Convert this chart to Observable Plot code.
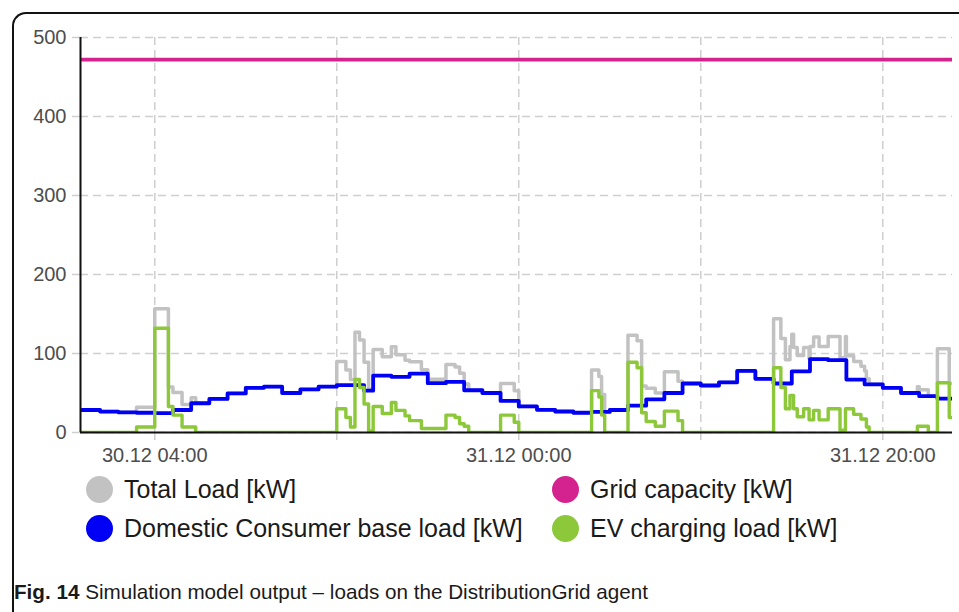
<!DOCTYPE html>
<html>
<head>
<meta charset="utf-8">
<script src="https://cdn.jsdelivr.net/npm/d3@7"></script>
<script src="https://cdn.jsdelivr.net/npm/@observablehq/plot@0.6"></script>
<style>
  body { margin: 0; background: #fff; }
  #page { position: relative; width: 959px; height: 612px; overflow: hidden; background: #fff; font-family: "Liberation Sans", Arial, sans-serif; }
  .frame { position: absolute; left: 12px; top: 12px; width: 1000px; height: 700px; border-left: 2px solid #111; border-top: 2px solid #111; border-top-left-radius: 14px; box-sizing: border-box; }
  #chart { position: absolute; left: 0; top: 0; }
  .item { position: absolute; display: flex; align-items: center; font-size: 25px; color: #1a1a1a; white-space: nowrap; }
  .dot { width: 27px; height: 27px; border-radius: 50%; margin-right: 11px; flex: none; }
  #caption { position: absolute; left: 0; top: 574px; }
</style>
</head>
<body>
<div id="page">
  <div class="frame"></div>
  <div id="chart"></div>
  <div id="legend"></div>
  <svg id="caption" width="959" height="38"></svg>
</div>
<script>
// ---- data (hours since 30.12 00:00) ----
const baseHours = [0,1,2,3,4,5,6,7,8,9,10,11,12,13,14,15,15.5,16,17,18,19,20,21,22,23,24,25,26,27,28,29,30,31,32,33,34,35,36,37,38,39,40,41,42,43,44,45,46,47];
const baseLoad  = [28.5,26.5,25.5,25,24.5,28.5,37,42.5,49.5,56.5,58,50,54.5,58,60,60,53,72,70.5,74.5,62.5,64,53.5,50,40,33,28.7,26.6,25,26,28.5,34,42,50,62,59.5,63.5,78,68,62,77.5,93,91.5,67,61,56.5,50,46,43];

const evHours = [0,3,4,4.75,5,5.5,6.25,14,14.5,14.75,15,15.25,15.5,15.75,16,16.5,17,17.25,17.75,18,18.65,20,20.5,20.75,21,21.25,23,23.75,24,28,28.4,28.55,28.72,30,30.5,30.75,31,31.5,32,32.75,33,38,38.4,38.65,38.9,39.1,39.3,39.65,39.95,40.2,40.5,41,41.65,41.95,42.4,42.8,43.1,43.25,45.9,46.5,47,47.65];
const evLoad  = [0,7,132,33,22,7,0,30,19,7,67,57,36,2,33,24,38,28,21,15,5,22,19,11,8,0,22,13,0,53,45,22,0,89,82,25,14,8,27,15,0,82,57,30,47,30,20,30,16,28,16,30,3,30,23,17,7,0,8,0,63,19];

const gridCapacity = 472;
const dataEnd = 47.85;

const yTicks = [0,100,200,300,400,500];
const xTickHours = [4,14,24,34,44];
const xTickLabels = ["30.12 04:00","","31.12 00:00","","31.12 20:00"];

const seriesNames = ["Total Load [kW]","Grid capacity [kW]","Domestic Consumer base load [kW]","EV charging load [kW]"];
const seriesColors = ["#c2c2c2","#d4238f","#0000f5","#8cc83a"];

// ---- build tables ----
function stepAt(hs, vs, t) { let v = vs[0]; for (let i = 0; i < hs.length; i++) if (hs[i] <= t) v = vs[i]; return v; }
function toSteps(hs, vs) { return hs.map((h, i) => ({h, v: vs[i]})).concat([{h: dataEnd, v: vs[vs.length - 1]}]); }
const base = toSteps(baseHours, baseLoad);
const ev = toSteps(evHours, evLoad);
const allH = Array.from(new Set([...baseHours, ...evHours])).sort((a, b) => a - b);
const totalVals = allH.map(h => stepAt(baseHours, baseLoad, h) + stepAt(evHours, evLoad, h));
const total = toSteps(allH, totalVals);
const cap = [{h: 0, v: gridCapacity}, {h: dataEnd, v: gridCapacity}];
const labelMap = new Map(xTickHours.map((h, i) => [h, xTickLabels[i]]));

const x0 = -0.08, x1 = 47.83;
const gridStyle = {stroke: "#cfcfcf", strokeWidth: 1.5, strokeDasharray: "8,5"};

const plot = Plot.plot({
  width: 959, height: 472,
  marginLeft: 80, marginRight: 7, marginTop: 37, marginBottom: 40,
  x: {domain: [x0, x1]},
  y: {domain: [0, 500]},
  style: {fontFamily: "Liberation Sans, Arial, sans-serif", fontSize: "20px", overflow: "visible", background: "transparent"},
  marks: [
    Plot.ruleY(yTicks, gridStyle),
    Plot.ruleX(xTickHours, gridStyle),
    Plot.axisY(yTicks, {tickSize: 8, tickPadding: 6, stroke: "#cfcfcf", strokeWidth: 1.5, fill: "#4d4d4d", fontSize: 20, label: null}),
    Plot.axisX(xTickHours, {tickSize: 8, tickPadding: 7, stroke: "#cfcfcf", strokeWidth: 1.5, fill: "#4d4d4d", fontSize: 20, label: null, tickFormat: d => labelMap.get(d)}),
    Plot.line(total, {x: "h", y: "v", curve: "step-after", stroke: seriesColors[0], strokeWidth: 3.5, clip: true}),
    Plot.line(base, {x: "h", y: "v", curve: "step-after", stroke: seriesColors[2], strokeWidth: 3.8, clip: true}),
    Plot.line(ev, {x: "h", y: "v", curve: "step-after", stroke: seriesColors[3], strokeWidth: 3.4, clip: true}),
    Plot.line(cap, {x: "h", y: "v", stroke: seriesColors[1], strokeWidth: 3.8, clip: true}),
    Plot.ruleY([0], {stroke: "#111", strokeWidth: 2}),
    Plot.ruleX([x0], {stroke: "#111", strokeWidth: 2})
  ]
});
document.getElementById("chart").appendChild(plot);

// ---- legend ----
const legend = document.getElementById("legend");
const pos = [[86, 489], [552, 489], [86, 528], [552, 528]];
seriesNames.forEach((name, i) => {
  const d = document.createElement("div");
  d.className = "item";
  d.style.left = pos[i][0] + "px";
  d.style.top = (pos[i][1] - 15) + "px";
  d.style.height = "30px";
  d.innerHTML = `<span class="dot" style="background:${seriesColors[i]}"></span><span>${name}</span>`;
  legend.appendChild(d);
});

// ---- caption ----
const cap_svg = d3.select("#caption");
const t = cap_svg.append("text").attr("x", 14).attr("y", 25)
  .attr("font-family", "Liberation Sans, Arial, sans-serif").attr("font-size", 21).attr("fill", "#1a1a1a")
  .attr("textLength", 634).attr("lengthAdjust", "spacingAndGlyphs");
t.append("tspan").attr("font-weight", "bold").text("Fig. 14");
t.append("tspan").text(" Simulation model output – loads on the DistributionGrid agent");
</script>
</body>
</html>
